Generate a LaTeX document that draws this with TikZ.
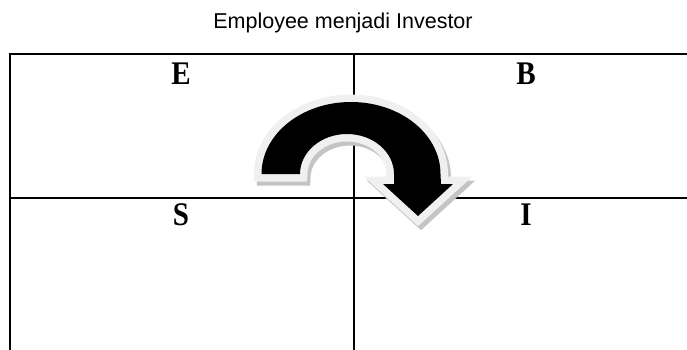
\documentclass[tikz,border=0pt]{standalone}
\usepackage{fontspec}
\setmainfont{Liberation Serif}
\newfontfamily\titlefont{Liberation Sans}
\definecolor{outlinegray}{HTML}{F0F0F0}
\definecolor{shadowgray}{HTML}{C4C4C4}
\begin{document}
\begin{tikzpicture}[x=1pt,y=1pt,
  grid/.style={line width=2pt,line cap=rect},
  letter/.style={font=\fontsize{33}{33}\bfseries\selectfont,anchor=base,inner sep=0pt,xscale=0.88},
  title/.style={font=\titlefont\fontsize{21.5}{21.5}\selectfont,anchor=base,inner sep=0pt}]
\useasboundingbox (0,0) rectangle (687,349);
% title
\node[title] (t) at (343,320) {Employee menjadi Investor};
% table
\coordinate (tl) at (9.5,295);
\coordinate (tr) at (700,295);
\coordinate (bl) at (9.5,-10);
\coordinate (mt) at (354,295);
\coordinate (mb) at (354,-10);
\coordinate (ml) at (9.5,151.5);
\coordinate (mr) at (700,151.5);
\draw[grid] (bl) -- (tl) -- (tr);
\draw[grid] (mt) -- (mb);
\draw[grid] (ml) -- (mr);
% letters
\node[letter] (E) at (181,265) {E};
\node[letter] (B) at (526,265) {B};
\node[letter] (S) at (181,124) {S};
\node[letter] (I) at (526,124) {I};
% curved arrow
\def\arrowpath{(261.5,175) arc[start angle=180,end angle=0,x radius=89.5,y radius=72]
  -- (441,165) -- (453,165) -- (418,133) -- (383,165) -- (394,165) -- (394,175)
  arc[start angle=0,end angle=180,x radius=47,y radius=40] -- cycle}
\filldraw[shadowgray,line width=15pt,line join=miter,shift={(3,-4)}] \arrowpath;
\filldraw[outlinegray,line width=15pt,line join=miter] \arrowpath;
\fill[black] \arrowpath;
\end{tikzpicture}
\end{document}
